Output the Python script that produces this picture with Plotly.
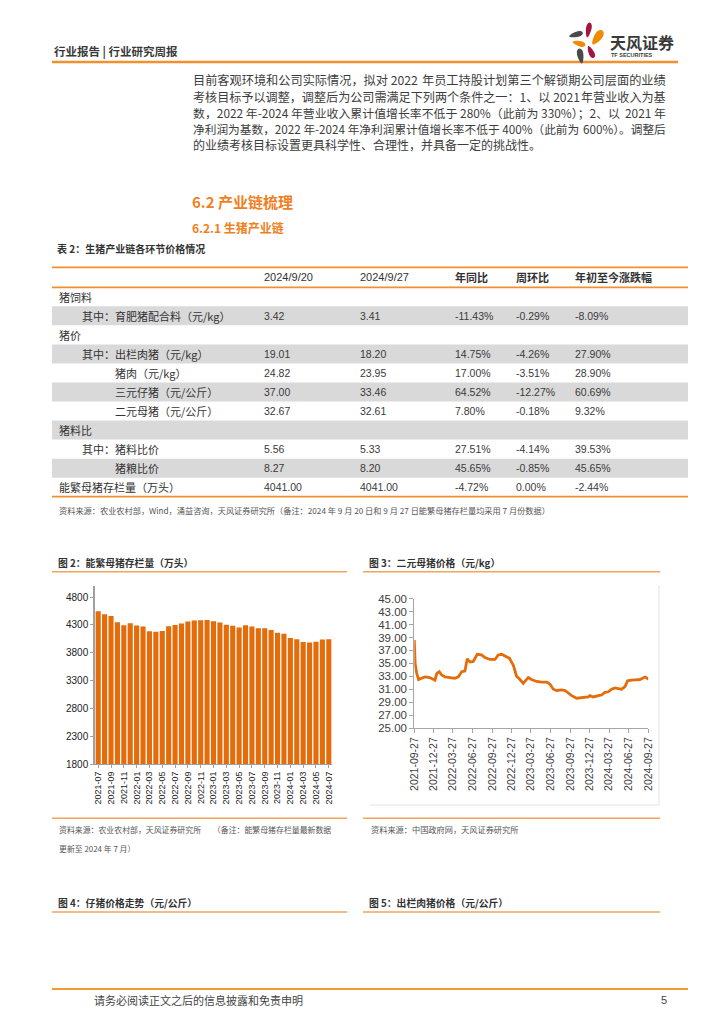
import math
import plotly.graph_objects as go

W, H = 724, 1024
OFF = 8                      # default page (body) margin of the html page
FW, FH = W - 2 * OFF, H - 2 * OFF


def X(p):
    return (p - OFF) / FW


def Y(p):
    return 1 - (p - OFF) / FH


# ---------------- data ----------------
months = ["2021-07", "2021-08", "2021-09", "2021-10", "2021-11", "2021-12",
          "2022-01", "2022-02", "2022-03", "2022-04", "2022-05", "2022-06",
          "2022-07", "2022-08", "2022-09", "2022-10", "2022-11", "2022-12",
          "2023-01", "2023-02", "2023-03", "2023-04", "2023-05", "2023-06",
          "2023-07", "2023-08", "2023-09", "2023-10", "2023-11", "2023-12",
          "2024-01", "2024-02", "2024-03", "2024-04", "2024-05", "2024-06",
          "2024-07"]
sow_stock = [4545, 4490, 4459, 4348, 4296, 4329, 4290, 4274, 4185, 4177,
             4192, 4277, 4298, 4324, 4362, 4379, 4383, 4390, 4367, 4343,
             4305, 4284, 4256, 4296, 4274, 4241, 4240, 4210, 4158, 4142,
             4067, 4042, 3992, 3986, 3996, 4038, 4041]
month_ticks = ["2021-07", "2021-09", "2021-11", "2022-01", "2022-03", "2022-05",
               "2022-07", "2022-09", "2022-11", "2023-01", "2023-03", "2023-05",
               "2023-07", "2023-09", "2023-11", "2024-01", "2024-03", "2024-05",
               "2024-07"]
stock_ticks = [1800, 2300, 2800, 3300, 3800, 4300, 4800]

price_dates = ["2021-09-27", "2021-10-01", "2021-10-08", "2021-10-17", "2021-10-31",
               "2021-11-16", "2021-12-09", "2021-12-25", "2022-01-02", "2022-01-10",
               "2022-01-22", "2022-02-02", "2022-02-18", "2022-03-13", "2022-04-05",
               "2022-04-21", "2022-05-07", "2022-05-22", "2022-06-02", "2022-06-15",
               "2022-06-30", "2022-07-19", "2022-08-08", "2022-08-24", "2022-09-16",
               "2022-10-10", "2022-10-25", "2022-11-10", "2022-11-26", "2022-12-16",
               "2023-01-04", "2023-01-19", "2023-02-04", "2023-02-19", "2023-03-04",
               "2023-03-15", "2023-03-30", "2023-04-23", "2023-05-16", "2023-06-09",
               "2023-06-24", "2023-07-10", "2023-07-26", "2023-08-18", "2023-09-03",
               "2023-09-18", "2023-10-04", "2023-10-27", "2023-11-20", "2023-12-21",
               "2023-12-29", "2024-01-13", "2024-02-06", "2024-02-21", "2024-03-08",
               "2024-03-24", "2024-04-08", "2024-04-24", "2024-05-09", "2024-05-25",
               "2024-06-10", "2024-06-22", "2024-07-11", "2024-08-03", "2024-08-19",
               "2024-08-31", "2024-09-11", "2024-09-19", "2024-09-27"]
price_values = [38.6, 35.0, 33.5, 32.5, 32.7, 32.9, 32.8, 32.6, 32.4, 33.4,
                33.7, 33.2, 32.9, 32.8, 32.7, 32.9, 33.7, 33.8, 35.7, 35.2,
                35.3, 36.4, 36.3, 35.9, 35.6, 35.6, 36.3, 36.4, 36.1, 35.8,
                34.7, 33.0, 32.5, 31.9, 32.4, 32.8, 32.5, 32.2, 32.1, 32.1,
                31.8, 31.0, 30.8, 30.9, 30.8, 30.4, 30.0, 29.6, 29.7, 29.8,
                30.0, 29.8, 30.0, 30.1, 30.5, 30.6, 31.0, 31.2, 31.1, 31.0,
                31.4, 32.3, 32.4, 32.4, 32.5, 32.7, 32.9, 32.8, 32.5]
date_ticks = ["2021-09-27", "2021-12-27", "2022-03-27", "2022-06-27", "2022-09-27",
              "2022-12-27", "2023-03-27", "2023-06-27", "2023-09-27", "2023-12-27",
              "2024-03-27", "2024-06-27", "2024-09-27"]
price_ticks = [25, 27, 29, 31, 33, 35, 37, 39, 41, 43, 45]

table_headers = ["2024/9/20", "2024/9/27", "年同比", "周环比", "年初至今涨跌幅"]
row_labels = ["猪饲料", "其中：育肥猪配合料（元/kg）", "猪价", "其中：出栏肉猪（元/kg）",
              "猪肉（元/kg）", "三元仔猪（元/公斤）", "二元母猪（元/公斤）", "猪料比",
              "其中：猪料比价", "猪粮比价", "能繁母猪存栏量（万头）"]
row_indent = [0, 1, 0, 1, 2, 2, 2, 0, 1, 2, 0]
val_0920 = ["", "3.42", "", "19.01", "24.82", "37.00", "32.67", "", "5.56", "8.27", "4041.00"]
val_0927 = ["", "3.41", "", "18.20", "23.95", "33.46", "32.61", "", "5.33", "8.20", "4041.00"]
yoy = ["", "-11.43%", "", "14.75%", "17.00%", "64.52%", "7.80%", "", "27.51%", "45.65%", "-4.72%"]
wow = ["", "-0.29%", "", "-4.26%", "-3.51%", "-12.27%", "-0.18%", "", "-4.14%", "-0.85%", "0.00%"]
ytd = ["", "-8.09%", "", "27.90%", "28.90%", "60.69%", "9.32%", "", "39.53%", "45.65%", "-2.44%"]

# paragraph lines, each split in a left part and a right part (justified line)
paragraph = [
    ("目前客观环境和公司实际情况，拟对 2022", "年员工持股计划第三个解锁期公司层面的业绩"),
    ("考核目标予以调整，调整后为公司需满足下列两个条件之一：1、以 2021", "年营业收入为基"),
    ("数，2022 年-2024 年营业收入累计值增长率不低于 280%（此前为 330%）；2、以", "2021 年"),
    ("净利润为基数，2022 年-2024 年净利润累计值增长率不低于 400%（此前为", "600%）。调整后"),
    ("的业绩考核目标设置更具科学性、合理性，并具备一定的挑战性。", ""),
]

# ---------------- styles ----------------
ORANGE_LINE = "#F0902E"
ORANGE_LIGHT = "#F3A35C"
ORANGE_TXT = "#F07F1E"
BAR_COLOR = "#E46C0A"
LINE_COLOR = "#E46C0A"
TXT = "#333333"
GRAY_TXT = "#555555"
CJK = "Noto Sans CJK SC, sans-serif"
NUM = "Liberation Sans, Arial, sans-serif"

fig = go.Figure()

fig.add_trace(go.Bar(x=months, y=sow_stock, marker=dict(color=BAR_COLOR, line=dict(width=0)),
                     xaxis="x", yaxis="y", showlegend=False))
fig.add_trace(go.Scatter(x=price_dates, y=price_values, mode="lines",
                         line=dict(color=LINE_COLOR, width=2.8, shape="linear"),
                         xaxis="x2", yaxis="y2", showlegend=False))

annotations = []
shapes = []


def text(x, y, s, size=11, color=TXT, family=CJK, bold=False, anchor="left"):
    annotations.append(dict(
        x=X(x), y=Y(y), xref="paper", yref="paper", xanchor=anchor, yanchor="middle",
        text=("<b>%s</b>" % s) if bold else s, showarrow=False,
        font=dict(size=size, color=color, family=family)))


def hline(x0, x1, y, color, width):
    shapes.append(dict(type="line", xref="paper", yref="paper",
                       x0=X(x0), x1=X(x1), y0=Y(y), y1=Y(y),
                       line=dict(color=color, width=width)))


def vline(x, y0, y1, color, width):
    shapes.append(dict(type="line", xref="paper", yref="paper",
                       x0=X(x), x1=X(x), y0=Y(y0), y1=Y(y1),
                       line=dict(color=color, width=width)))


def rect(x0, x1, y0, y1, color):
    shapes.append(dict(type="rect", xref="paper", yref="paper",
                       x0=X(x0), x1=X(x1), y0=Y(y1), y1=Y(y0),
                       line=dict(width=0), fillcolor=color, layer="below"))


def petal(cx, cy, length, width, angle_deg, color):
    a = math.radians(angle_deg)
    pts = []
    n = 24
    for i in range(n):
        t = 2 * math.pi * i / n
        u = math.cos(t) * length / 2
        v = math.sin(t) * width / 2 * (0.75 + 0.25 * math.cos(t))
        px = cx + u * math.cos(a) - v * math.sin(a)
        py = cy - (u * math.sin(a) + v * math.cos(a))
        pts.append((X(px), Y(py)))
    path = "M " + " L ".join("%.5f,%.5f" % p for p in pts) + " Z"
    shapes.append(dict(type="path", xref="paper", yref="paper", path=path,
                       fillcolor=color, line=dict(width=0)))


# ---------------- header ----------------
text(52, 52, "行业报告 | 行业研究周报", size=11.5, color="#3a3a3a", bold=True)
hline(52, 678, 62, ORANGE_LINE, 2.5)
RED = "#A3153D"
ORG = "#F08A00"
GRY = "#4A4A4A"
petal(588.5, 30, 15, 7, 80, RED)
petal(597.5, 37.5, 17, 10, 55, ORG)
petal(576, 34.5, 14, 7, 15, GRY)
petal(579, 43.5, 13, 7, -15, ORG)
petal(591, 52, 13, 7, -65, RED)
petal(580.5, 56, 15, 8, 100, GRY)
text(608, 42, "天风证券", size=16, color="#3a3a3a", bold=True)
text(609, 55.5, "TF SECURITIES", size=5.5, color="#3a3a3a", family=NUM, bold=True)

# ---------------- paragraph ----------------
para_y = [80, 96.5, 112.5, 128.5, 145]
para_size = [12.2, 12.1, 11.9, 11.7, 12]
for yy, sz, (left, right) in zip(para_y, para_size, paragraph):
    text(191, yy, left, size=sz, color="#3c3c3c")
    if right:
        text(668, yy, right, size=sz, color="#3c3c3c", anchor="right")

text(190, 201, "6.2 产业链梳理", size=15, color=ORANGE_TXT, bold=True)
text(190, 227, "6.2.1 生猪产业链", size=12, color=ORANGE_TXT, bold=True)
text(55, 248, "表 2：生猪产业链各环节价格情况", size=10, color=TXT, bold=True)

# ---------------- table ----------------
T_L, T_R = 52, 688
T_TOP, T_HEAD, T_BOT = 267.3, 287.3, 496.7
row_h = (T_BOT - T_HEAD) / len(row_labels)
for i in range(len(row_labels)):
    if i % 2 == 1:
        rect(T_L, T_R, T_HEAD + i * row_h, T_HEAD + (i + 1) * row_h, "#D9D9D9")
hline(T_L, T_R, T_TOP, ORANGE_LINE, 1.8)
hline(T_L, T_R, T_HEAD, ORANGE_LINE, 1.8)
hline(T_L, T_R, T_BOT, ORANGE_LINE, 1.8)

col_x = [262, 358, 453, 514, 573]
head_y = (T_TOP + T_HEAD) / 2
for j, h in enumerate(table_headers):
    if j < 2:
        text(col_x[j], head_y, h, size=11, color=TXT, family=NUM)
    else:
        text(col_x[j], head_y, h, size=11, color=TXT, bold=True)
indent_x = [57, 80, 113]
cols = [val_0920, val_0927, yoy, wow, ytd]
for i, lab in enumerate(row_labels):
    yy = T_HEAD + (i + 0.5) * row_h
    text(indent_x[row_indent[i]], yy, lab, size=11, color=TXT)
    for j, c in enumerate(cols):
        if c[i]:
            text(col_x[j], yy, c[i], size=10.5, color="#3a3a3a", family=NUM)

text(57, 509.5, "资料来源：农业农村部，Wind，涌益咨询，天风证券研究所（备注：2024 年 9 月 20 日和 9 月 27 日能繁母猪存栏量均采用 7 月份数据）",
     size=8.2, color=GRAY_TXT)

# ---------------- chart headers ----------------
text(56, 562.5, "图 2：能繁母猪存栏量（万头）", size=9.8, color=TXT, bold=True)
hline(52, 347, 571.7, ORANGE_LIGHT, 1.5)
text(367, 562.5, "图 3：二元母猪价格（元/kg）", size=9.8, color=TXT, bold=True)
hline(363, 660, 571.7, ORANGE_LIGHT, 1.5)

# line chart frame (right + bottom)
vline(659, 585, 805, "#E3E3E3", 1)
hline(370, 659, 805, "#E3E3E3", 1)

# sources
hline(52, 347, 818.3, ORANGE_LIGHT, 1.5)
text(57, 829, "资料来源：农业农村部，天风证券研究所　　（备注：能繁母猪存栏量最新数据", size=7.9, color=GRAY_TXT)
text(57, 848, "更新至 2024 年 7 月）", size=7.9, color=GRAY_TXT)
hline(363, 660, 818.3, ORANGE_LIGHT, 1.5)
text(369, 829, "资料来源：中国政府网，天风证券研究所", size=8.2, color=GRAY_TXT)

# fig 4 / 5 headers
text(56, 902.7, "图 4：仔猪价格走势（元/公斤）", size=9.8, color=TXT, bold=True)
hline(52, 347, 912, ORANGE_LIGHT, 1.5)
text(367, 902.7, "图 5：出栏肉猪价格（元/公斤）", size=9.8, color=TXT, bold=True)
hline(363, 660, 912, ORANGE_LIGHT, 1.5)

# footer
hline(52, 688, 989, "#F39A2C", 2)
text(92, 1000, "请务必阅读正文之后的信息披露和免责申明", size=11, color="#444444")
text(669, 1000, "5", size=11, color="#444444", family=NUM, anchor="right")

fig.update_layout(
    width=FW, height=FH, margin=dict(l=0, r=0, t=0, b=0, pad=0, autoexpand=False),
    paper_bgcolor="white", plot_bgcolor="rgba(0,0,0,0)",
    showlegend=False, bargap=0.2,
    annotations=annotations, shapes=shapes,
    xaxis=dict(domain=[X(95), X(332)], type="category", range=[-0.5, len(months) - 0.5],
               tickmode="array", tickvals=month_ticks, ticktext=month_ticks,
               tickangle=-90, tickfont=dict(size=9, color="#222222", family=NUM),
               ticks="outside", ticklen=3, tickcolor="#A0A0A0",
               showline=True, linecolor="#A0A0A0", linewidth=1, showgrid=False,
               zeroline=False, anchor="y", fixedrange=True, automargin=False),
    yaxis=dict(domain=[Y(764), Y(586)], range=[1800, 5000],
               tickmode="array", tickvals=stock_ticks,
               tickfont=dict(size=10, color="#222222", family=NUM),
               ticks="outside", ticklen=3, tickcolor="#A0A0A0",
               showline=True, linecolor="#A0A0A0", linewidth=1.5, showgrid=False,
               zeroline=False, anchor="x", fixedrange=True, automargin=False),
    xaxis2=dict(domain=[X(414.3), X(648.3)], type="date",
                range=["2021-09-27", "2024-09-27"],
                tickmode="array", tickvals=date_ticks, ticktext=date_ticks,
                tickangle=-90, tickfont=dict(size=10.5, color="#404040", family=NUM),
                ticks="outside", ticklen=4, tickcolor="#A6A6A6",
                showline=True, linecolor="#A6A6A6", linewidth=1, showgrid=False,
                zeroline=False, anchor="y2", fixedrange=True, automargin=False),
    yaxis2=dict(domain=[Y(728), Y(598.7)], range=[25, 45],
                tickmode="array", tickvals=price_ticks, tickformat=".2f",
                tickfont=dict(size=11.5, color="#404040", family=NUM),
                ticks="outside", ticklen=4, tickcolor="#A6A6A6",
                showline=True, linecolor="#A6A6A6", linewidth=1, showgrid=False,
                zeroline=False, anchor="x2", fixedrange=True, automargin=False),
)

fig.write_html("out.html")
